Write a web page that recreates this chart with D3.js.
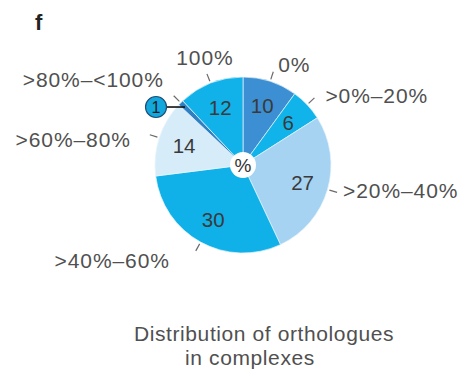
<!DOCTYPE html>
<html>
<head>
<meta charset="utf-8">
<script src="https://cdn.jsdelivr.net/npm/d3@7"></script>
<style>
  html, body { margin: 0; padding: 0; background: #fff; }
  svg { display: block; }
  text { font-family: "Liberation Sans", Arial, Helvetica, sans-serif; }
</style>
</head>
<body>
<svg id="chart" width="464" height="373"></svg>
<script>
// Share of orthologues found in complexes, by bin
const categories = ["0%", ">0%\u201320%", ">20%\u201340%", ">40%\u201360%", ">60%\u201380%", ">80%\u2013<100%", "100%"];
const values = [10, 6, 27, 30, 14, 1, 12];
const titleLines = ["Distribution of orthologues", "in complexes"];
const panelLetter = "f";

// Slice fills, one per category
const palette = ["#3c8fd2", "#10b4ea", "#a5d3f1", "#0fb1e8", "#d6edf9", "#2f80c2", "#10b2e9"];

// Outer label placement: [dx, dy] from the end of each leader tick, and text anchor
const labelNudge = [[5, 0], [11, 5], [6, 6], [-26, 17], [-19, 12], [-10, -9], [-2, -9]];
const labelAnchor = ["start", "start", "start", "end", "end", "end", "middle"];

const svg = d3.select("#chart");
const cx = 243, cy = 165, R = 88, hole = 13;

const color = d3.scaleOrdinal().domain(categories).range(palette);

const pie = d3.pie().value(d => d.value).sort(null);
const data = categories.map((c, i) => ({ cat: c, value: values[i] }));
const arcs = pie(data);

const arc = d3.arc().innerRadius(0).outerRadius(R);
const labelArc = d3.arc().innerRadius(62).outerRadius(62);

const g = svg.append("g").attr("transform", `translate(${cx},${cy})`);

g.selectAll("path.slice")
  .data(arcs)
  .join("path")
  .attr("class", "slice")
  .attr("d", arc)
  .attr("fill", d => color(d.data.cat))
  .attr("stroke", "#e8f4fb")
  .attr("stroke-width", 0.7);

// Centre hole with unit symbol
g.append("circle").attr("r", hole).attr("fill", "#fff");
g.append("text")
  .attr("text-anchor", "middle")
  .attr("dy", "0.35em")
  .attr("font-size", 19)
  .attr("fill", "#333")
  .text("%");

// Values inside slices (the smallest one gets a callout instead)
const minor = d => d.value < 3;
g.selectAll("text.val")
  .data(arcs.filter(d => !minor(d.data)))
  .join("text")
  .attr("class", "val")
  .attr("transform", d => `translate(${labelArc.centroid(d)})`)
  .attr("text-anchor", "middle")
  .attr("dy", "0.36em")
  .attr("font-size", 20.5)
  .attr("fill", "#3a3a3a")
  .text(d => d.data.value);

// Leader ticks and category labels
const polar = (a, r) => [Math.sin(a) * r, -Math.cos(a) * r];
const mid = d => (d.startAngle + d.endAngle) / 2;

arcs.forEach((d, i) => {
  const a = mid(d);
  const p0 = polar(a, R + 2), p1 = polar(a, R + 10);
  g.append("line")
    .attr("x1", p0[0]).attr("y1", p0[1])
    .attr("x2", p1[0]).attr("y2", p1[1])
    .attr("stroke", "#6a6a6a")
    .attr("stroke-width", 1.2);
  g.append("text")
    .attr("x", p1[0] + labelNudge[i][0])
    .attr("y", p1[1] + labelNudge[i][1])
    .attr("text-anchor", labelAnchor[i])
    .attr("font-size", 21)
    .attr("letter-spacing", 0.9)
    .attr("fill", "#505050")
    .text(d.data.cat);
});

// Callout bubble for the small slice
arcs.filter(d => minor(d.data)).forEach(d => {
  const p = polar(mid(d), 82);
  const bx = p[0] - 29, br = 10.5;
  g.append("line")
    .attr("x1", bx + br).attr("y1", p[1])
    .attr("x2", p[0]).attr("y2", p[1])
    .attr("stroke", "#111")
    .attr("stroke-width", 1.6);
  g.append("circle")
    .attr("cx", bx).attr("cy", p[1]).attr("r", br)
    .attr("fill", "#12a8de")
    .attr("stroke", "#1d4d74")
    .attr("stroke-width", 1.2);
  g.append("text")
    .attr("x", bx).attr("y", p[1])
    .attr("dy", "0.36em")
    .attr("text-anchor", "middle")
    .attr("font-size", 16)
    .attr("fill", "#1a1a1a")
    .text(d.data.value);
});

// Panel letter
svg.append("text")
  .attr("x", 35).attr("y", 30)
  .attr("font-size", 22)
  .attr("font-weight", "bold")
  .attr("fill", "#222")
  .text(panelLetter);

// Caption below the pie
const captionX = [264, 250];
titleLines.forEach((t, i) => {
  svg.append("text")
    .attr("x", captionX[i])
    .attr("y", 341 + i * 24)
    .attr("text-anchor", "middle")
    .attr("font-size", 21)
    .attr("letter-spacing", 0.6)
    .attr("fill", "#505050")
    .text(t);
});
</script>
</body>
</html>
